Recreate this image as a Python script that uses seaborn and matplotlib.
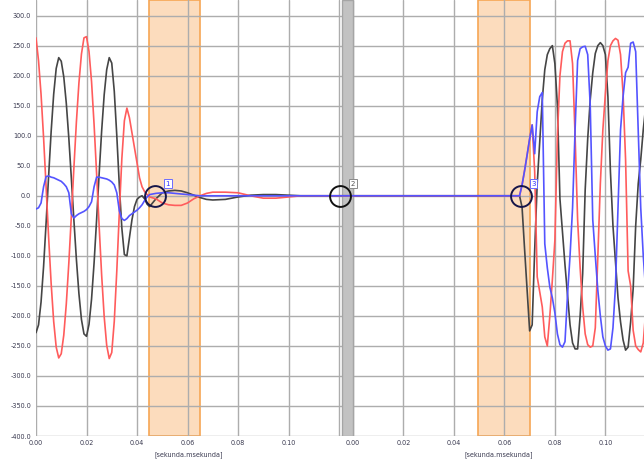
import numpy as np
import pandas as pd
import matplotlib
matplotlib.use("Agg")
import matplotlib.pyplot as plt
import seaborn as sns

# ---------------- data ----------------
# segment 1 sample times [s]
t_seg1 = [0.000, 0.001, 0.002, 0.003, 0.004, 0.005, 0.006, 0.007, 0.008, 0.009,
          0.010, 0.011, 0.012, 0.013, 0.014, 0.015, 0.016, 0.017, 0.018, 0.019,
          0.020, 0.021, 0.022, 0.023, 0.024, 0.025, 0.026, 0.027, 0.028, 0.029,
          0.030, 0.031, 0.032, 0.033, 0.034, 0.035, 0.036, 0.037, 0.038, 0.039,
          0.040, 0.041, 0.042, 0.043, 0.044, 0.045,
          0.0475, 0.050, 0.0525, 0.055, 0.0575, 0.060, 0.0625, 0.065, 0.0675, 0.070,
          0.075, 0.080, 0.085, 0.090, 0.095, 0.100, 0.105, 0.110, 0.115, 0.120]

black_seg1 = [-228, -215, -177, -118, -45, 33, 107, 169, 212, 230,
              224, 198, 154, 96, 29, -40, -106, -163, -206, -230,
              -234, -214, -172, -112, -40, 36, 108, 168, 210, 230,
              221, 174, 100, 17, -54, -98, -100, -70, -40, -18,
              -6, -2, 0, -5, -14, -18,
              -5, 5, 8, 9, 8, 5, 1, -3, -6, -7,
              -6, -2, 1, 2, 2, 1, 0, 0, 0, 0]

red_seg1 = [263, 225, 169, 97, 15, -69, -146, -209, -252, -270,
            -263, -232, -180, -112, -34, 46, 123, 188, 236, 263,
            265, 240, 190, 119, 37, -50, -132, -201, -249, -271,
            -261, -209, -125, -28, 62, 125, 146, 130, 105, 80,
            55, 30, 15, 7, 2, -2,
            -5, -12, -15, -16, -16, -12, -5, 0, 4, 6,
            6, 5, 0, -4, -4, -2, 0, 0, 0, 0]

blue_seg1 = [-22, -20, -12, 15, 32, 33, 31, 30, 28, 26,
             24, 20, 15, 5, -30, -37, -33, -30, -28, -26,
             -23, -18, -10, 15, 31, 31, 30, 29, 28, 26,
             23, 18, 5, -25, -38, -41, -38, -33, -30, -27,
             -24, -20, -15, -8, -2, 2,
             4, 5, 5, 4, 3, 2, 1, 0, 0, 0,
             0, 0, 0, 0, 0, 0, 0, 0, 0, 0]

# segment 2 sample times [s]
t_seg2 = [0.000, 0.020, 0.040, 0.060,
          0.066, 0.067, 0.068, 0.069, 0.070, 0.071, 0.072, 0.073, 0.074, 0.075,
          0.076, 0.077, 0.078, 0.079, 0.080, 0.081, 0.082, 0.083, 0.084, 0.085,
          0.086, 0.087, 0.088, 0.089, 0.090, 0.091, 0.092, 0.093, 0.094, 0.095,
          0.096, 0.097, 0.098, 0.099, 0.100, 0.101, 0.102, 0.103, 0.104, 0.105,
          0.106, 0.107, 0.108, 0.109, 0.110, 0.111, 0.112, 0.113, 0.114, 0.115,
          0.116]

black_seg2 = [0, 0, 0, 0,
              0, -19, -89, -157, -225, -215, -90, 20, 90, 160,
              210, 235, 245, 250, 220, 150, -5, -60, -115, -165,
              -215, -245, -255, -255, -200, -130, 10, 95, 160, 205,
              237, 250, 255, 250, 235, 165, 40, -50, -110, -170,
              -210, -240, -257, -252, -210, -155, -50, 20, 60, 110,
              150]

red_seg2 = [0, 0, 0, 0,
            0, 18, 42, 68, 95, 118, 40, -135, -160, -185,
            -235, -250, -200, -140, -74, 100, 200, 240, 254, 258,
            258, 220, 100, -40, -120, -185, -230, -248, -252, -250,
            -220, -102, 20, 110, 170, 225, 250, 258, 262, 259,
            235, 170, 60, -125, -150, -224, -250, -256, -260, -245,
            -190]

blue_seg2 = [0, 0, 0, 0,
             0, 18, 42, 68, 95, 118, 70, 140, 165, 172,
             -80, -120, -152, -170, -195, -230, -248, -252, -243, -165,
             -100, -20, 110, 225, 245, 248, 249, 235, 150, -40,
             -100, -157, -200, -235, -250, -257, -255, -220, -150, -20,
             110, 165, 205, 214, 254, 256, 240, 109, -20, -100,
             -160]

trace_names = ["black", "red", "blue"]
trace_colors = {"black": "#454545", "red": "#ff5c5c", "blue": "#5454ff"}

seg_offset = 0.1255           # where segment 2 starts on the common axis
gap_marker = (0.1212, 0.1255)  # grey break bar
orange_seg1 = (0.0448, 0.0650)
orange_seg2 = (0.0495, 0.0700)

cursor_seg = [1, 1, 2]
cursor_times = [0.0471, 0.1204, 0.0665]
cursor_labels = ["1", "2", "3"]

x_tick_values = [0.00, 0.02, 0.04, 0.06, 0.08, 0.10]
x_tick_labels = ["0.00", "0.02", "0.04", "0.06", "0.08", "0.10"]
y_tick_values = [300, 250, 200, 150, 100, 50, 0, -50, -100, -150, -200, -250, -300, -350, -400]
y_tick_labels = ["300.0", "250.0", "200.0", "150.0", "100.0", "50.0", "0.0", "-50.0",
                 "-100.0", "-150.0", "-200.0", "-250.0", "-300.0", "-350.0", "-400.0"]
axis_unit = "[sekunda.msekunda]"

# ---------------- build long table ----------------
rows = []
for name, s1, s2 in zip(trace_names, [black_seg1, red_seg1, blue_seg1],
                        [black_seg2, red_seg2, blue_seg2]):
    for t, v in zip(t_seg1, s1):
        rows.append((t, v, name))
    for t, v in zip(t_seg2, s2):
        rows.append((seg_offset + t, v, name))
df = pd.DataFrame(rows, columns=["x", "value", "trace"])

# ---------------- figure ----------------
sns.set_style("white")
plt.rcParams["font.family"] = ["DejaVu Sans"]

W, H = 644, 463
fig = plt.figure(figsize=(W / 100, H / 100), dpi=100)
ax = fig.add_axes([36 / W, 27 / H, 608 / W, 436 / H])

x_max = (644 - 36) / 2525
ax.set_xlim(0, x_max)
ax.set_ylim(-400, 326)

# shaded regions
for a, b in [orange_seg1, (seg_offset + orange_seg2[0], seg_offset + orange_seg2[1])]:
    ax.axvspan(a, b, facecolor="#fcdcbd", edgecolor="#f6a654", lw=1.2, zorder=0.3)
ax.axvspan(gap_marker[0], gap_marker[1], facecolor="#c2c2c2", edgecolor="#a5a5a5",
           lw=1.0, zorder=1.6)

# grid via ticks
xt = [v for v in x_tick_values] + [0.12] + [seg_offset + v for v in x_tick_values]
xl = x_tick_labels + [""] + x_tick_labels
ax.set_xticks(xt)
ax.set_xticklabels(xl)
ax.set_yticks(y_tick_values)
ax.set_yticklabels(y_tick_labels)
ax.grid(True, color="#adadad", lw=1.0)
ax.tick_params(length=0, labelsize=4.7, labelcolor="#3a3a50")
ax.tick_params(axis="x", pad=3)
ax.tick_params(axis="y", pad=3.5)
for sp in ax.spines.values():
    sp.set_visible(False)

sns.lineplot(data=df, x="x", y="value", hue="trace", hue_order=trace_names,
             palette=trace_colors, estimator=None, sort=False, lw=1.2,
             legend=False, ax=ax, zorder=2)
ax.set_xlabel("")
ax.set_ylabel("")

# cursors
for seg, t, lab in zip(cursor_seg, cursor_times, cursor_labels):
    x = t if seg == 1 else seg_offset + t
    edge = "#111111" if lab == "2" else "#16164a"
    ax.plot([x], [0], marker="o", ms=15, mfc="none", mec=edge, mew=1.4, zorder=4)
    box_ec = "#8a8a8a" if lab == "2" else "#6c6cff"
    txt_c = "#555555" if lab == "2" else "#3030ff"
    ax.annotate(lab, xy=(x, 0), xytext=(13, 12), textcoords="offset pixels",
                fontsize=5, color=txt_c, ha="center", va="center",
                bbox=dict(boxstyle="square,pad=0.2", fc="white", ec=box_ec, lw=0.7),
                zorder=5)

# unit labels under each segment
trans = ax.get_xaxis_transform()
for xc in [(189 - 36) / 2525, (499 - 36) / 2525]:
    ax.text(xc, -19 / 436, axis_unit, transform=trans, ha="center", va="center",
            fontsize=4.7, color="#3a3a50")

fig.savefig("out.png", dpi=100)
